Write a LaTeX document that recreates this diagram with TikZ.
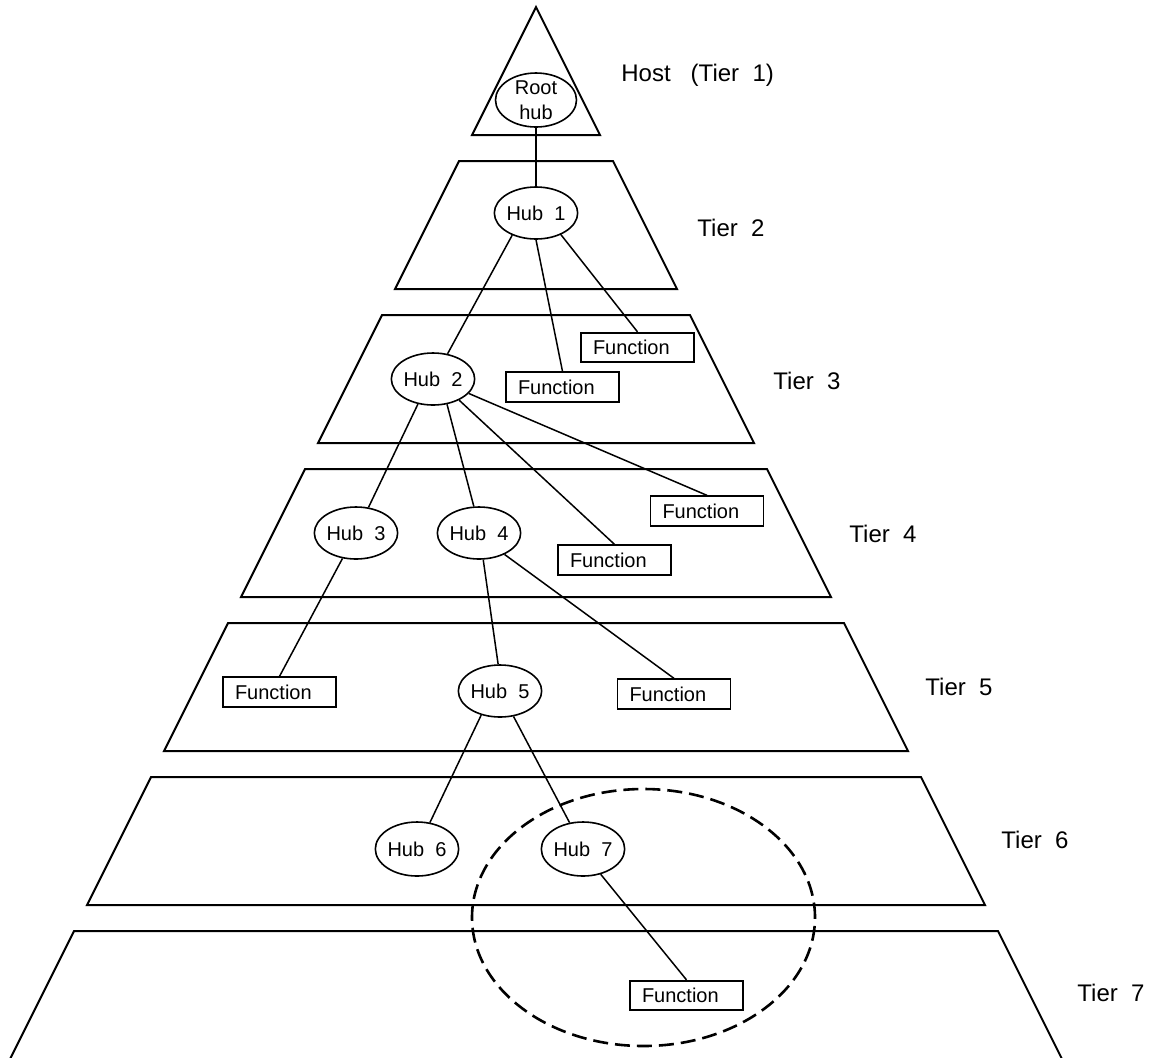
\documentclass[tikz,border=0pt]{standalone}
\usepackage{fontspec}
\setmainfont{Liberation Sans}
\usepackage{tikz}
\usetikzlibrary{shapes,arrows}
\tikzstyle{tier} = [draw, line width=1pt, line join=miter]
\tikzstyle{hub} = [draw, ellipse, line width=0.8pt, inner sep=0pt,
    minimum width=40.5pt, minimum height=26pt, font=\fontsize{10}{12.5}\selectfont]
\tikzstyle{func} = [draw, rectangle, line width=0.9pt, inner xsep=6pt, inner ysep=0pt,
    text width=44.5pt, align=left, minimum height=14.75pt, font=\fontsize{10}{12}\selectfont]
\tikzstyle{tiername} = [anchor=west, inner sep=0pt, font=\fontsize{12}{14}\selectfont]
\tikzstyle{link} = [draw, line width=0.75pt]
\tikzstyle{hubgroup} = [draw, ellipse, dashed, dash pattern=on 7.5pt off 3.5pt, line width=1.3pt,
    inner sep=0pt, minimum width=171.5pt, minimum height=128.5pt]

\begin{document}
\begin{tikzpicture}[x=0.5pt, y=-0.5pt]
    \useasboundingbox (0,0) rectangle (1162,1057);
    \foreach \t in {1,...,7}{
      \pgfmathsetmacro\ya{7+154*(\t-1)}
      \pgfmathsetmacro\yb{\ya+128}
      \draw[tier] ({536-(\ya-7)/2},\ya) -- ({536+(\ya-7)/2},\ya) -- ({536+(\yb-7)/2},\yb)
        -- ({536-(\yb-7)/2},\yb) -- cycle;
    }
    \node[tiername] (host) at (621,75) {Host\ \ \ (Tier\ \ 1)};
    \foreach \t in {2,...,7}
      \node[tiername] (tier\t) at ({621+76*(\t-1)},{75+153*(\t-1)}) {Tier\ \ \t};

    \node[hub, minimum height=27pt, inner sep=-1pt, align=center] (root) at (536,100) {Root\\hub};
    \node[hub] (hub1) at (536,213) {Hub\ \ 1};
    \node[hub] (hub2) at (433,379) {Hub\ \ 2};
    \node[hub] (hub3) at (356,533) {Hub\ \ 3};
    \node[hub] (hub4) at (479,533) {Hub\ \ 4};
    \node[hub] (hub5) at (500,691) {Hub\ \ 5};
    \node[hub, minimum height=27pt] (hub6) at (417,849) {Hub\ \ 6};
    \node[hub, minimum height=27pt] (hub7) at (583,849) {Hub\ \ 7};

    \node[func] (fnA) at (637.5,347.5) {Function};
    \node[func] (fnB) at (562.5,387) {Function};
    \node[func] (fnC) at (707,511) {Function};
    \node[func] (fnD) at (614.5,560) {Function};
    \node[func] (fnE) at (279.5,692) {Function};
    \node[func] (fnF) at (674,694) {Function};
    \node[func] (fnG) at (686.5,995.5) {Function};

    \node[hubgroup] (grp) at (643.5,917.5) {};

    \draw[link] (root) -- (hub1);
    \draw[link] (hub1.223) -- (hub2.60);
    \draw[link] (hub1.south) -- (fnB.north);
    \draw[link] (hub1.319) -- (fnA.north);
    \draw[link] (hub2.239) -- (hub3.64);
    \draw[link] (hub2.299) -- (hub4.101);
    \draw[link] (hub2.321) -- (fnD.north);
    \draw[link] (hub2.338) -- (fnC.north);
    \draw[link] (hub3.242) -- (fnE.north);
    \draw[link] (hub4.279) -- (hub5.94);
    \draw[link] (hub4.320) -- (fnF.north);
    \draw[link] (hub5.232) -- (hub6.64);
    \draw[link] (hub5.298) -- (hub7.117);
    \draw[link] (hub7.305) -- (fnG.north);
\end{tikzpicture}
\end{document}
